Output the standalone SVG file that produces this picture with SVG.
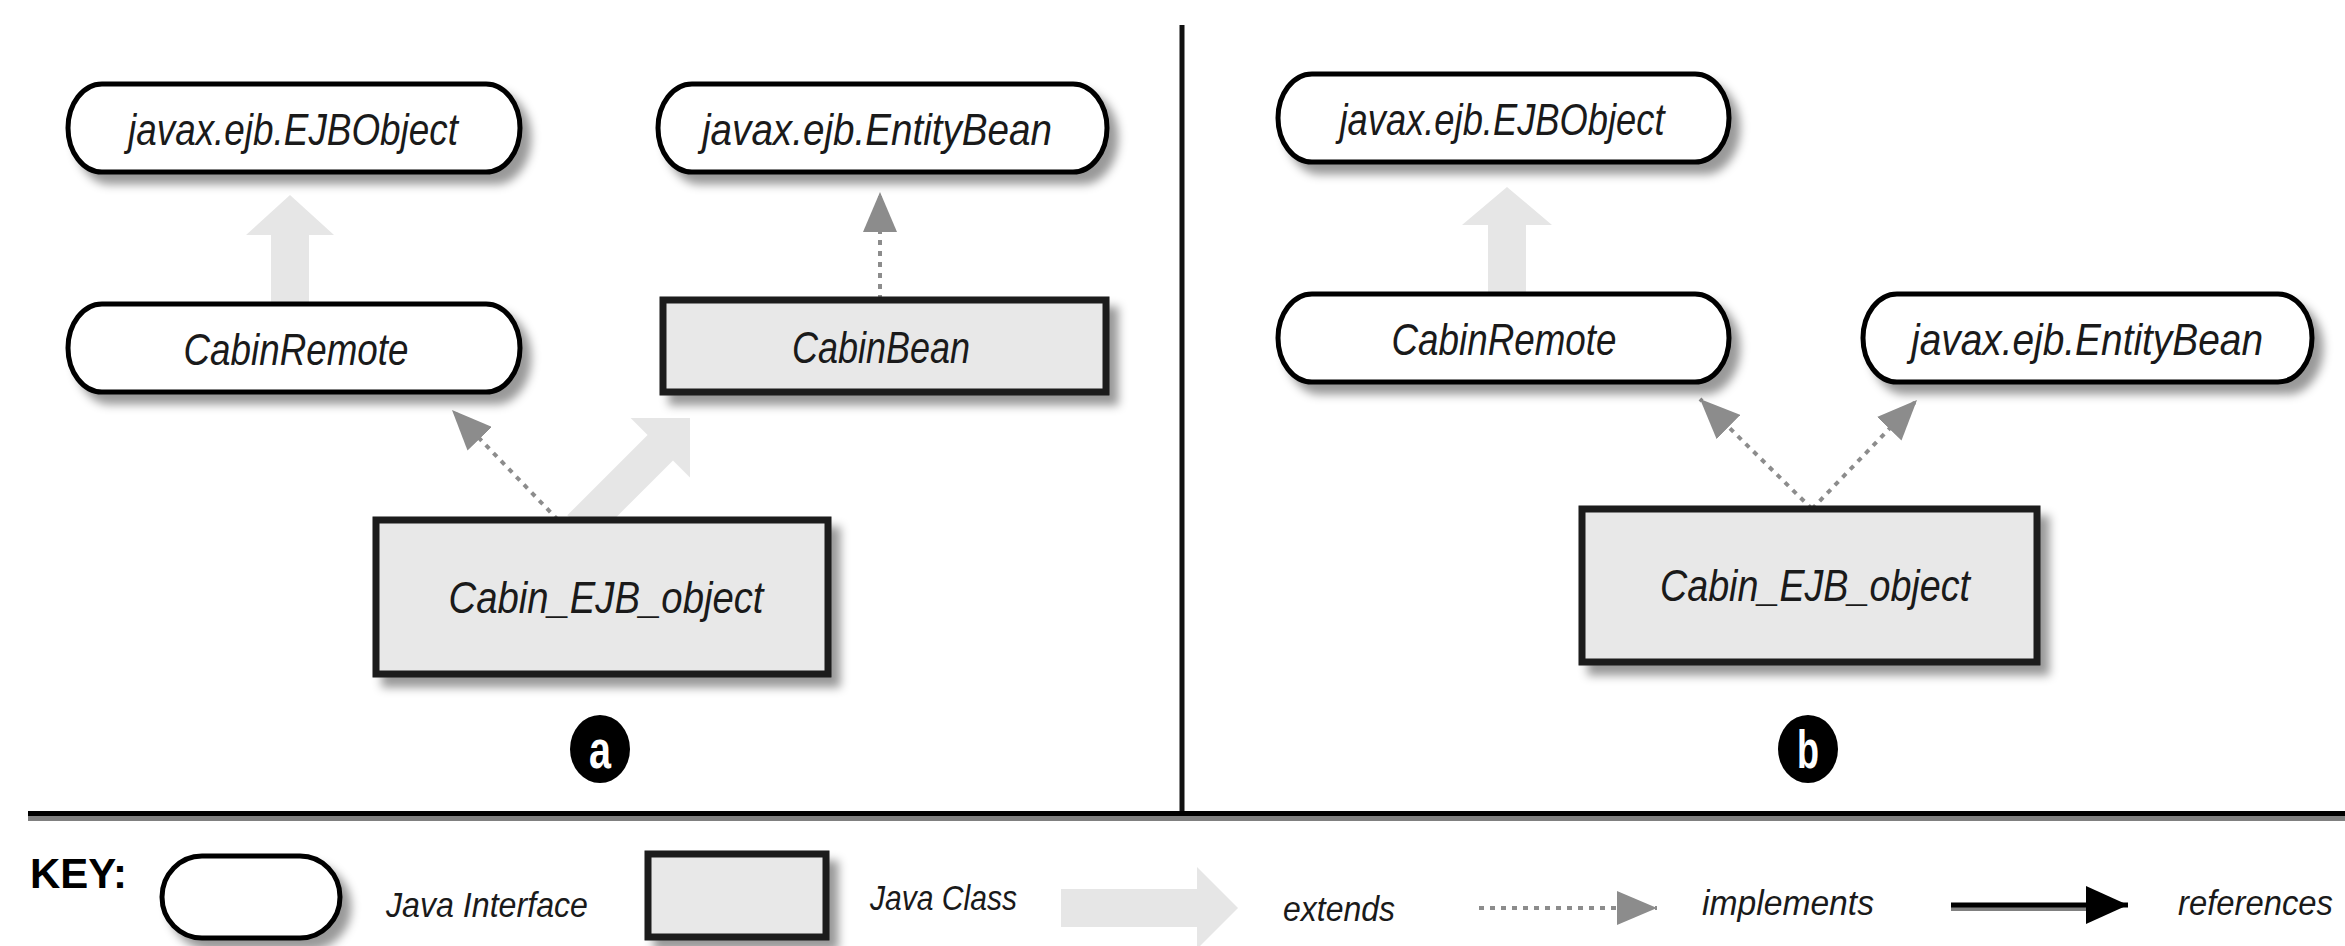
<svg xmlns="http://www.w3.org/2000/svg" width="2345" height="946" viewBox="0 0 2345 946">
<defs>
<style>
.iface{fill:#fff;stroke:#000;stroke-width:5;filter:url(#sh)}
.cls{fill:#e8e8e8;stroke:#1c1c1c;stroke-width:7;filter:url(#sh)}
.lbl{font-family:"Liberation Sans",Arial,sans-serif;font-style:italic;font-size:44px;fill:#1a1a1a;text-anchor:middle}
.key{font-family:"Liberation Sans",Arial,sans-serif;font-style:italic;font-size:35px;fill:#1a1a1a}
.ext{fill:#e6e6e6}
.impl{stroke:#8c8c8c;stroke-width:4;stroke-dasharray:5 6;fill:none;marker-end:url(#ah)}
.btxt{font-family:"Liberation Sans",Arial,sans-serif;font-weight:bold;font-size:54px;fill:#fff;text-anchor:middle}
</style>
<filter id="sh" x="-10%" y="-10%" width="130%" height="140%">
<feDropShadow dx="9" dy="10" stdDeviation="5" flood-color="#000" flood-opacity="0.4"/>
</filter>
<marker id="ah" markerUnits="userSpaceOnUse" markerWidth="40" markerHeight="34" refX="40" refY="17" orient="auto">
<path d="M0,0 L40,17 L0,34 z" fill="#8c8c8c"/>
</marker>
<marker id="bh" markerUnits="userSpaceOnUse" markerWidth="42" markerHeight="38" refX="42" refY="19" orient="auto">
<path d="M0,0 L42,19 L0,38 z" fill="#000"/>
</marker>
</defs>
<rect x="0" y="0" width="2345" height="946" fill="#fff"/>

<g id="frame">
<line x1="1182" y1="25" x2="1182" y2="815" stroke="#111" stroke-width="5"/>
<rect x="28" y="811" width="2317" height="5" fill="#000"/>
<rect x="28" y="816" width="2317" height="5" fill="#808080"/>
</g>

<g id="connectors">
<polygon class="ext" points="271,305 271,235 246,235 290,195 334,235 309,235 309,305"/>
<line class="impl" x1="880" y1="300" x2="880" y2="192"/>
<line class="impl" x1="558" y1="520" x2="452" y2="410"/>
<polygon class="ext" points="567.3,515.3 647.6,435 630.6,418 690,418 690,477.4 673,460.4 592.7,540.7"/>
<polygon class="ext" points="1488,296 1488,225 1462,225 1507,187 1552,225 1526,225 1526,296"/>
<line class="impl" x1="1812" y1="509" x2="1700" y2="399"/>
<line class="impl" x1="1812" y1="509" x2="1917" y2="400"/>
</g>

<g id="a-ejbobject">
<rect class="iface" x="68" y="84" width="452" height="88" rx="34" ry="44"/>
<text class="lbl" x="293" y="145" textLength="330" lengthAdjust="spacingAndGlyphs">javax.ejb.EJBObject</text>
</g>
<g id="a-entitybean">
<rect class="iface" x="658" y="84" width="449" height="88" rx="34" ry="44"/>
<text class="lbl" x="877" y="145" textLength="350" lengthAdjust="spacingAndGlyphs">javax.ejb.EntityBean</text>
</g>
<g id="a-cabinremote">
<rect class="iface" x="68" y="304" width="452" height="88" rx="34" ry="44"/>
<text class="lbl" x="296" y="365" textLength="225" lengthAdjust="spacingAndGlyphs">CabinRemote</text>
</g>
<g id="a-cabinbean">
<rect class="cls" x="663" y="300" width="443" height="92"/>
<text class="lbl" x="881" y="363" textLength="178" lengthAdjust="spacingAndGlyphs">CabinBean</text>
</g>
<g id="a-cabin-ejb-object">
<rect class="cls" x="376" y="520" width="452" height="154"/>
<text class="lbl" x="606" y="613" textLength="315" lengthAdjust="spacingAndGlyphs">Cabin_EJB_object</text>
</g>
<g id="badge-a">
<ellipse cx="600" cy="749" rx="30" ry="34" fill="#000"/>
<text class="btxt" x="600" y="768" textLength="22" lengthAdjust="spacingAndGlyphs">a</text>
</g>

<g id="b-ejbobject">
<rect class="iface" x="1278" y="74" width="451" height="88" rx="34" ry="44"/>
<text class="lbl" x="1502" y="135" textLength="325" lengthAdjust="spacingAndGlyphs">javax.ejb.EJBObject</text>
</g>
<g id="b-cabinremote">
<rect class="iface" x="1278" y="294" width="451" height="88" rx="34" ry="44"/>
<text class="lbl" x="1504" y="355" textLength="225" lengthAdjust="spacingAndGlyphs">CabinRemote</text>
</g>
<g id="b-entitybean">
<rect class="iface" x="1863" y="294" width="449" height="88" rx="34" ry="44"/>
<text class="lbl" x="2087" y="355" textLength="352" lengthAdjust="spacingAndGlyphs">javax.ejb.EntityBean</text>
</g>
<g id="b-cabin-ejb-object">
<rect class="cls" x="1582" y="509" width="455" height="153"/>
<text class="lbl" x="1815" y="601" textLength="310" lengthAdjust="spacingAndGlyphs">Cabin_EJB_object</text>
</g>
<g id="badge-b">
<ellipse cx="1808" cy="749" rx="30" ry="34" fill="#000"/>
<text class="btxt" x="1808" y="768" textLength="22" lengthAdjust="spacingAndGlyphs">b</text>
</g>

<g id="key">
<text x="30" y="888" font-family="Liberation Sans, Arial, sans-serif" font-weight="bold" font-size="42" fill="#000" textLength="97" lengthAdjust="spacingAndGlyphs">KEY:</text>
<g id="key-interface">
<rect class="iface" x="162" y="856" width="178" height="82" rx="40" ry="41"/>
<text class="key" x="386" y="917" textLength="202" lengthAdjust="spacingAndGlyphs">Java Interface</text>
</g>
<g id="key-class">
<rect class="cls" x="648" y="854" width="178" height="83"/>
<text class="key" x="870" y="910" textLength="147" lengthAdjust="spacingAndGlyphs">Java Class</text>
</g>
<g id="key-extends">
<polygon class="ext" points="1061,889 1197,889 1197,867 1238,908 1197,949 1197,927 1061,927"/>
<text class="key" x="1283" y="921" textLength="112" lengthAdjust="spacingAndGlyphs">extends</text>
</g>
<g id="key-implements">
<line class="impl" x1="1479" y1="908" x2="1657" y2="908"/>
<text class="key" x="1702" y="915" textLength="172" lengthAdjust="spacingAndGlyphs">implements</text>
</g>
<g id="key-references">
<line x1="1951" y1="909" x2="2100" y2="909" stroke="#808080" stroke-width="4"/>
<line x1="1951" y1="905" x2="2128" y2="905" stroke="#000" stroke-width="5" marker-end="url(#bh)"/>
<text class="key" x="2178" y="915" textLength="155" lengthAdjust="spacingAndGlyphs">references</text>
</g>
</g>
</svg>
